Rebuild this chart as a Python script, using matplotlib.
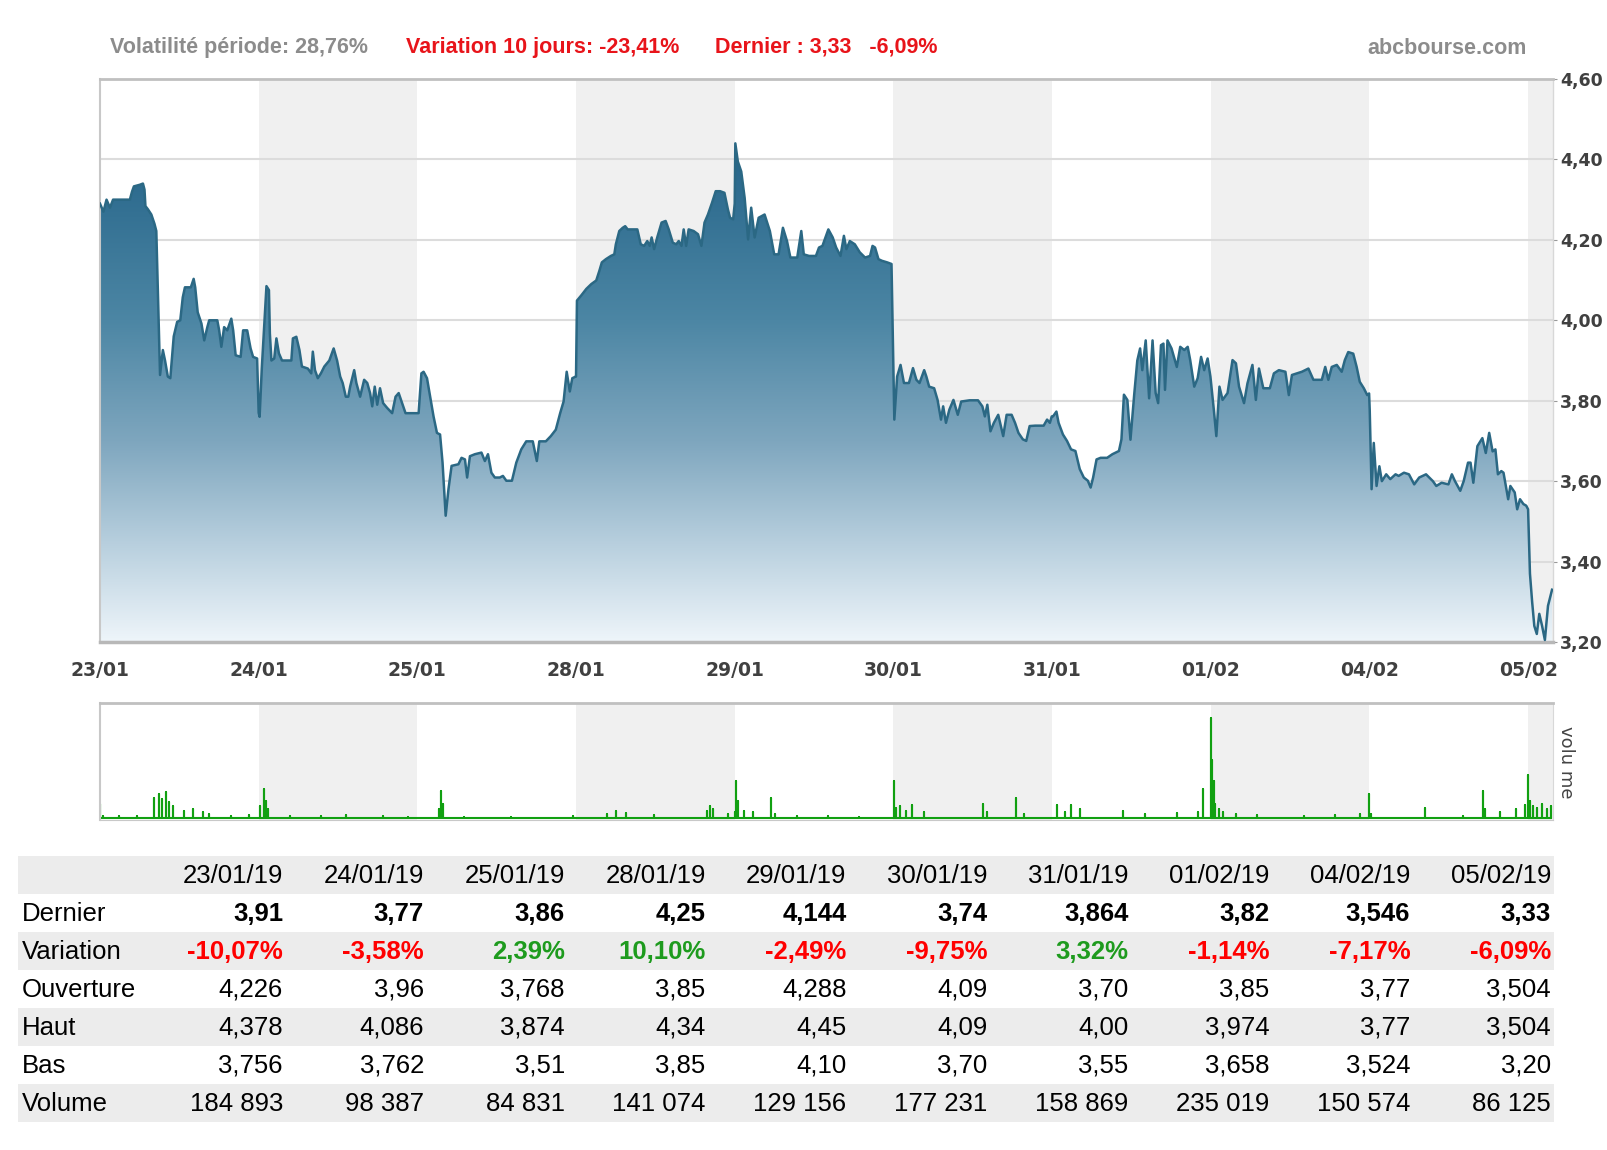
import numpy as np
import matplotlib.pyplot as plt
from matplotlib.colors import LinearSegmentedColormap
from matplotlib.patches import Polygon, Rectangle

# intraday quotes, (minutes after 9h00, price) - session 9h00-17h30
session = 510
jan23 = [(0, 4.29), (11, 4.27), (21, 4.30), (32, 4.28), (42, 4.30), (58, 4.30), (96, 4.30), (103, 4.32),
         (109, 4.333), (128, 4.337), (138, 4.34), (143, 4.325), (146, 4.284), (154, 4.276), (165, 4.263),
         (175, 4.24), (181, 4.222), (188, 4.008), (193, 3.864), (202, 3.926), (209, 3.90), (218, 3.86),
         (226, 3.856), (237, 3.96), (248, 3.996), (258, 4.00), (266, 4.057), (273, 4.082), (292, 4.082),
         (301, 4.103), (306, 4.082), (314, 4.02), (326, 3.992), (335, 3.95), (345, 3.983), (351, 4.00),
         (377, 4.00), (383, 3.975), (390, 3.934), (399, 3.983), (409, 3.975), (422, 4.004), (428, 3.975),
         (436, 3.913), (452, 3.909), (460, 3.975), (473, 3.975), (484, 3.93), (492, 3.909), (505, 3.905)]
jan24 = [(0, 3.77), (3, 3.76), (10, 3.88), (20, 4.02), (25, 4.085), (33, 4.075), (36, 3.967), (41, 3.90),
         (50, 3.905), (57, 3.955), (65, 3.918), (75, 3.90), (105, 3.90), (110, 3.955), (121, 3.959),
         (131, 3.926), (139, 3.885), (158, 3.88), (169, 3.868), (174, 3.922), (181, 3.876), (190, 3.856),
         (200, 3.868), (211, 3.885), (227, 3.90), (241, 3.93), (252, 3.90), (262, 3.86), (270, 3.844),
         (280, 3.81), (288, 3.81), (294, 3.835), (307, 3.876), (314, 3.844), (326, 3.81), (339, 3.852),
         (349, 3.844), (358, 3.819), (365, 3.786), (373, 3.835), (381, 3.79), (390, 3.831), (400, 3.794),
         (413, 3.782), (429, 3.769), (440, 3.81), (450, 3.819), (461, 3.794), (472, 3.769), (487, 3.769),
         (509, 3.769)]
jan25 = [(4, 3.769), (13, 3.868), (20, 3.872), (31, 3.856), (41, 3.81), (52, 3.761), (63, 3.72), (73, 3.716),
         (81, 3.646), (91, 3.514), (100, 3.58), (110, 3.638), (132, 3.642), (142, 3.658), (153, 3.654),
         (160, 3.609), (169, 3.662), (185, 3.667), (206, 3.671), (217, 3.65), (227, 3.667), (238, 3.621),
         (249, 3.609), (265, 3.609), (275, 3.613), (286, 3.601), (304, 3.601), (318, 3.646), (334, 3.679),
         (350, 3.699), (371, 3.699), (384, 3.65), (392, 3.699), (413, 3.699), (429, 3.712), (445, 3.728),
         (459, 3.769), (470, 3.798), (480, 3.872), (490, 3.823), (498, 3.856), (509, 3.86)]
jan28 = [(0, 3.86), (3, 4.049), (17, 4.062), (33, 4.078), (49, 4.09), (65, 4.099), (75, 4.123), (83, 4.144),
         (96, 4.152), (112, 4.16), (123, 4.164), (128, 4.189), (139, 4.222), (150, 4.23), (158, 4.234),
         (166, 4.226), (182, 4.226), (197, 4.226), (208, 4.189), (219, 4.185), (229, 4.197), (237, 4.185),
         (243, 4.206), (251, 4.177), (261, 4.206), (275, 4.243), (288, 4.247), (298, 4.226), (311, 4.193),
         (322, 4.189), (330, 4.197), (339, 4.185), (346, 4.226), (354, 4.185), (362, 4.226), (378, 4.222),
         (392, 4.214), (403, 4.185), (413, 4.243), (424, 4.263), (437, 4.292), (449, 4.321), (463, 4.321),
         (477, 4.317), (488, 4.276), (495, 4.255), (505, 4.251)]
jan29 = [(0, 4.29), (2, 4.44), (10, 4.395), (21, 4.37), (32, 4.304), (43, 4.201), (53, 4.28), (64, 4.206),
         (77, 4.255), (96, 4.263), (113, 4.222), (127, 4.164), (141, 4.164), (155, 4.23), (168, 4.197),
         (179, 4.156), (201, 4.156), (214, 4.222), (222, 4.164), (239, 4.16), (261, 4.16), (271, 4.181),
         (282, 4.185), (301, 4.226), (315, 4.206), (326, 4.181), (340, 4.16), (351, 4.21), (359, 4.177),
         (370, 4.197), (386, 4.189), (402, 4.169), (419, 4.156), (435, 4.16), (443, 4.185), (451, 4.181),
         (462, 4.152), (473, 4.148), (490, 4.144), (504, 4.14)]
jan30 = [(3, 3.753), (12, 3.86), (23, 3.889), (34, 3.844), (50, 3.844), (63, 3.881), (74, 3.852), (84, 3.844),
         (99, 3.876), (106, 3.86), (115, 3.835), (131, 3.831), (142, 3.802), (153, 3.753), (160, 3.786),
         (169, 3.745), (180, 3.778), (193, 3.802), (207, 3.765), (218, 3.798), (245, 3.801), (272, 3.801),
         (286, 3.786), (294, 3.761), (302, 3.79), (312, 3.724), (323, 3.745), (337, 3.765), (353, 3.712),
         (364, 3.765), (380, 3.765), (391, 3.745), (402, 3.72), (416, 3.704), (427, 3.70), (438, 3.737),
         (456, 3.738), (483, 3.738), (494, 3.753), (503, 3.745), (509, 3.761)]
jan31 = [(3, 3.761), (14, 3.773), (21, 3.745), (35, 3.716), (48, 3.70), (61, 3.679), (75, 3.675), (89, 3.63),
         (102, 3.609), (115, 3.601), (124, 3.584), (132, 3.609), (143, 3.654), (156, 3.658), (177, 3.658),
         (194, 3.667), (215, 3.675), (223, 3.704), (231, 3.815), (242, 3.802), (252, 3.703), (264, 3.815),
         (274, 3.90), (283, 3.93), (290, 3.876), (301, 3.95), (312, 3.806), (323, 3.95), (333, 3.819),
         (341, 3.794), (350, 3.938), (358, 3.942), (363, 3.827), (371, 3.95), (384, 3.93), (401, 3.884),
         (412, 3.934), (425, 3.926), (436, 3.934), (444, 3.901), (457, 3.835), (468, 3.856), (479, 3.909),
         (489, 3.876), (500, 3.905), (509, 3.86)]
feb01 = [(10, 3.777), (18, 3.712), (28, 3.835), (38, 3.802), (54, 3.819), (70, 3.901), (81, 3.893), (91, 3.835),
         (107, 3.794), (118, 3.843), (134, 3.889), (145, 3.802), (155, 3.88), (169, 3.831), (190, 3.831),
         (203, 3.868), (219, 3.876), (240, 3.872), (251, 3.814), (261, 3.864), (277, 3.868), (293, 3.872),
         (314, 3.88), (330, 3.852), (357, 3.852), (368, 3.884), (378, 3.852), (389, 3.884), (405, 3.889),
         (421, 3.872), (431, 3.901), (442, 3.921), (458, 3.917), (469, 3.884), (479, 3.847), (492, 3.831),
         (503, 3.814), (509, 3.818)]
feb04 = [(1, 3.777), (7, 3.58), (14, 3.695), (23, 3.588), (32, 3.637), (40, 3.60), (54, 3.617), (67, 3.605),
         (84, 3.617), (94, 3.613), (111, 3.621), (127, 3.617), (144, 3.592), (160, 3.609), (182, 3.617),
         (204, 3.60), (215, 3.588), (232, 3.596), (254, 3.592), (265, 3.617), (275, 3.60), (292, 3.576),
         (303, 3.60), (317, 3.646), (325, 3.646), (334, 3.596), (347, 3.687), (363, 3.707), (374, 3.67),
         (385, 3.72), (396, 3.674), (405, 3.679), (413, 3.617), (424, 3.625), (431, 3.621), (446, 3.555),
         (453, 3.588), (467, 3.572), (475, 3.53), (484, 3.555), (495, 3.543), (504, 3.539)]
feb05 = [(0, 3.53), (6, 3.37), (13, 3.30), (20, 3.24), (28, 3.22), (36, 3.27), (45, 3.24), (54, 3.205),
         (64, 3.29), (77, 3.33)]

# intraday volume, (minutes after 9h00, shares)
vol_jan23 = [(0, 5000), (10, 800), (60, 600), (120, 700), (175, 7000), (190, 8500), (200, 6500), (212, 9000),
             (222, 5500), (236, 4000), (270, 2500), (300, 3000), (330, 2000), (350, 1500), (420, 700), (480, 900)]
vol_jan24 = [(5, 4000), (16, 10000), (22, 6000), (30, 3000), (100, 800), (200, 700), (280, 1200), (400, 600),
             (480, 500)]
vol_jan25 = [(70, 3000), (77, 9500), (84, 5000), (150, 400), (300, 500), (500, 600)]
vol_jan28 = [(100, 1500), (130, 2500), (160, 1800), (250, 1000), (420, 2500), (430, 4000), (440, 3000),
             (490, 1500)]
vol_jan29 = [(0, 2000), (4, 13000), (10, 6000), (30, 2500), (60, 2000), (118, 7000), (130, 1500), (200, 700),
             (300, 600), (400, 500)]
vol_jan30 = [(2, 13000), (8, 3500), (20, 4000), (40, 2500), (60, 4500), (100, 2000), (288, 5000), (300, 2000),
             (395, 7000), (420, 1500)]
vol_jan31 = [(16, 4500), (40, 2000), (60, 4500), (90, 3000), (229, 2500), (300, 1500), (400, 1800),
             (470, 2000), (485, 10000)]
vol_feb01 = [(0, 34800), (4, 20000), (9, 13000), (15, 5000), (25, 3000), (40, 2000), (80, 1500), (150, 1000),
             (300, 800), (400, 1200), (480, 1500)]
vol_feb04 = [(0, 8500), (5, 1500), (180, 3500), (300, 800), (365, 9500), (372, 3000), (420, 2000),
             (470, 3000), (500, 4500)]
vol_feb05 = [(0, 15000), (5, 6000), (15, 4000), (30, 3500), (45, 5000), (60, 3000), (75, 4000)]

days = ['23/01', '24/01', '25/01', '28/01', '29/01', '30/01', '31/01', '01/02', '04/02', '05/02']
price_days = [jan23, jan24, jan25, jan28, jan29, jan30, jan31, feb01, feb04, feb05]
vol_days = [vol_jan23, vol_jan24, vol_jan25, vol_jan28, vol_jan29, vol_jan30, vol_jan31, vol_feb01,
            vol_feb04, vol_feb05]

# daily table
dates = ['23/01/19', '24/01/19', '25/01/19', '28/01/19', '29/01/19', '30/01/19', '31/01/19', '01/02/19',
         '04/02/19', '05/02/19']
dernier = ['3,91', '3,77', '3,86', '4,25', '4,144', '3,74', '3,864', '3,82', '3,546', '3,33']
variation = ['-10,07%', '-3,58%', '2,39%', '10,10%', '-2,49%', '-9,75%', '3,32%', '-1,14%', '-7,17%', '-6,09%']
ouverture = ['4,226', '3,96', '3,768', '3,85', '4,288', '4,09', '3,70', '3,85', '3,77', '3,504']
haut = ['4,378', '4,086', '3,874', '4,34', '4,45', '4,09', '4,00', '3,974', '3,77', '3,504']
bas = ['3,756', '3,762', '3,51', '3,85', '4,10', '3,70', '3,55', '3,658', '3,524', '3,20']
volume = ['184 893', '98 387', '84 831', '141 074', '129 156', '177 231', '158 869', '235 019', '150 574',
          '86 125']


def to_series(groups):
    t, v = [], []
    for i, g in enumerate(groups):
        for m, val in g:
            t.append(i + m / session)
            v.append(val)
    return np.array(t), np.array(v)


t_price, price = to_series(price_days)
t_vol, vol = to_series(vol_days)

W, H = 1608, 1150
fig = plt.figure(figsize=(W / 100, H / 100), dpi=100)


def box(l, t, r, b):
    return [l / W, 1 - b / H, (r - l) / W, (b - t) / H]


xmax = 9.157
band = '#f0f0f0'
tick_color = '#404040'

# price chart
ax = fig.add_axes(box(100, 79, 1553, 642))
for i in range(1, 10, 2):
    ax.axvspan(i, i + 1, color=band, lw=0, zorder=0)
for y in [3.4, 3.6, 3.8, 4.0, 4.2, 4.4]:
    ax.axhline(y, color='#dcdcdc', lw=1.5, zorder=1)

verts = [(t_price[0], 3.2)] + list(zip(t_price, price)) + [(t_price[-1], 3.2)]
poly = Polygon(verts, closed=True, facecolor='none', edgecolor='none')
ax.add_patch(poly)
cmap = LinearSegmentedColormap.from_list('fade', [(0.0, '#eef5fa'), (0.2, '#b6cedd'), (0.4, '#7ea6be'),
                                                  (0.64, '#4c86a4'), (1.0, '#246388')])
grad = np.linspace(0, 1, 256).reshape(-1, 1)
im = ax.imshow(grad, extent=(0, xmax, 3.2, 4.45), origin='lower', aspect='auto', cmap=cmap, zorder=2)
im.set_clip_path(poly)
ax.plot(t_price, price, color='#2b6884', lw=1.8, zorder=3)

ax.set_xlim(0, xmax)
ax.set_ylim(3.2, 4.6)
ax.yaxis.tick_right()
yt = [3.2, 3.4, 3.6, 3.8, 4.0, 4.2, 4.4, 4.6]
ax.set_yticks(yt)
ax.set_yticklabels([f'{v:.2f}'.replace('.', ',') for v in yt], fontsize=12.5, color=tick_color,
                   fontweight='bold')
ax.set_xticks(range(10))
ax.set_xticklabels(days, fontsize=13.5, color=tick_color, fontweight='bold')
ax.tick_params(axis='x', length=0, pad=14)
ax.tick_params(axis='y', length=3, pad=2, color='#999999')
ax.spines['left'].set_color('#c8c8c8')
ax.spines['left'].set_linewidth(1.5)
ax.spines['top'].set_color('#c0c0c0')
ax.spines['top'].set_linewidth(2)
ax.spines['bottom'].set_color('#b8b8b8')
ax.spines['bottom'].set_linewidth(2.5)
ax.spines['right'].set_color('#d8d8d8')
ax.spines['right'].set_linewidth(1)

# volume chart
vax = fig.add_axes(box(100, 703, 1553, 820))
for i in range(1, 10, 2):
    vax.axvspan(i, i + 1, color=band, lw=0, zorder=0)
xs = np.repeat(t_vol, 3)
ys = np.column_stack([np.zeros_like(vol), vol, np.zeros_like(vol)]).ravel()
vax.plot(xs, ys, color='#11a011', lw=1.5, zorder=2)
vax.set_xlim(0, xmax)
vax.set_ylim(-700, 40000)
vax.set_xticks([])
vax.set_yticks([])
vax.spines['top'].set_color('#c0c0c0')
vax.spines['top'].set_linewidth(2)
vax.spines['left'].set_color('#c8c8c8')
vax.spines['left'].set_linewidth(1.5)
vax.spines['bottom'].set_color('#c8c8c8')
vax.spines['right'].set_color('#d8d8d8')

# header, watermark and table in pixel coordinates
ov = fig.add_axes([0, 0, 1, 1])
ov.set_xlim(0, W)
ov.set_ylim(H, 0)
ov.axis('off')

hfont = dict(family='Liberation Sans', fontsize=15.5, fontweight='bold', va='center')
ov.text(110, 47, 'Volatilité période: 28,76%', color='#8c8c8c', **hfont)
ov.text(406, 47, 'Variation 10 jours: -23,41%', color='#e8141a', **hfont)
ov.text(715, 47, 'Dernier : 3,33   -6,09%', color='#e8141a', **hfont)
ov.text(1527, 48, 'abcbourse.com', color='#8c8c8c', ha='right', **hfont)
ov.text(1566, 762, 'volu me', rotation=-90, fontsize=13, color='#444444', ha='center', va='center',
        family='DejaVu Sans')

row_top = 856
row_h = 38
col_right = [283 + i * 140.9 for i in range(10)]
rows = [('', dates), ('Dernier', dernier), ('Variation', variation), ('Ouverture', ouverture),
        ('Haut', haut), ('Bas', bas), ('Volume', volume)]
tfont = dict(family='Liberation Sans', fontsize=18.5, va='center')
for r, (label, vals) in enumerate(rows):
    y0 = row_top + r * row_h
    if r % 2 == 0:
        ov.add_patch(Rectangle((18, y0), 1536, row_h, color='#ececec', lw=0))
    yc = y0 + row_h / 2 + 1
    ov.text(22, yc, label, color='black', **tfont)
    for c, v in enumerate(vals):
        color = 'black'
        weight = 'normal'
        if label == 'Dernier':
            weight = 'bold'
        if label == 'Variation':
            weight = 'bold'
            color = '#ff0000' if v.startswith('-') else '#1e9b1e'
        ov.text(col_right[c], yc, v, ha='right', color=color, fontweight=weight, **tfont)

fig.savefig('out.png', dpi=100)
